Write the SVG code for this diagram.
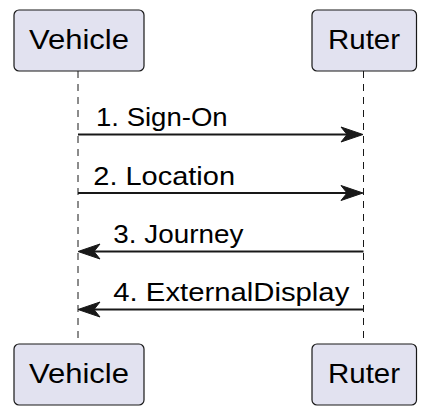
<svg xmlns="http://www.w3.org/2000/svg" width="428" height="412" viewBox="0 0 428 412">
<style>
.box{fill:#E2E2F0;stroke:#181818;stroke-width:1.2}
.life{stroke:#181818;stroke-width:1;stroke-dasharray:7,6;fill:none}
.pt{font-family:"Liberation Sans",Arial,sans-serif;font-size:28px;fill:#000}
.mt{font-family:"Liberation Sans",Arial,sans-serif;font-size:26px;fill:#000}
.msg{stroke:#181818;stroke-width:2;fill:none}
.head{fill:#181818;stroke:#181818;stroke-width:1}
</style>
<rect width="428" height="412" fill="#FFFFFF"/>
<g id="lifelines">
<line class="life" x1="78" y1="71" x2="78" y2="344"/>
<line class="life" x1="363.5" y1="71" x2="363.5" y2="344"/>
</g>
<g id="vehicle-top">
<rect class="box" x="14" y="10" width="130" height="61" rx="5"/>
<text class="pt" x="29" y="49.3" textLength="100" lengthAdjust="spacingAndGlyphs">Vehicle</text>
</g>
<g id="ruter-top">
<rect class="box" x="312" y="10" width="104.5" height="61" rx="5"/>
<text class="pt" x="328" y="49.3" textLength="72" lengthAdjust="spacingAndGlyphs">Ruter</text>
</g>
<g id="vehicle-bottom">
<rect class="box" x="14" y="344" width="130" height="61" rx="5"/>
<text class="pt" x="29" y="383.3" textLength="100" lengthAdjust="spacingAndGlyphs">Vehicle</text>
</g>
<g id="ruter-bottom">
<rect class="box" x="312" y="344" width="104.5" height="61" rx="5"/>
<text class="pt" x="328" y="383.3" textLength="72" lengthAdjust="spacingAndGlyphs">Ruter</text>
</g>
<g id="connectors">
<line class="msg" x1="78" y1="134.5" x2="360" y2="134.5"/>
<polygon class="head" points="341,127 363,134.5 341,142 347,134.5"/>
<text class="mt" x="96" y="126" textLength="131.7" lengthAdjust="spacingAndGlyphs">1. Sign-On</text>
<line class="msg" x1="78" y1="193" x2="360" y2="193"/>
<polygon class="head" points="341,185.5 363,193 341,200.5 347,193"/>
<text class="mt" x="93.3" y="184.5" textLength="141.7" lengthAdjust="spacingAndGlyphs">2. Location</text>
<line class="msg" x1="81" y1="251.5" x2="363.5" y2="251.5"/>
<polygon class="head" points="100,244 78,251.5 100,259 94,251.5"/>
<text class="mt" x="113.3" y="242.5" textLength="130" lengthAdjust="spacingAndGlyphs">3. Journey</text>
<line class="msg" x1="81" y1="309.5" x2="363.5" y2="309.5"/>
<polygon class="head" points="100,302 78,309.5 100,317 94,309.5"/>
<text class="mt" x="113.3" y="300.5" textLength="236" lengthAdjust="spacingAndGlyphs">4. ExternalDisplay</text>
</g>
</svg>
